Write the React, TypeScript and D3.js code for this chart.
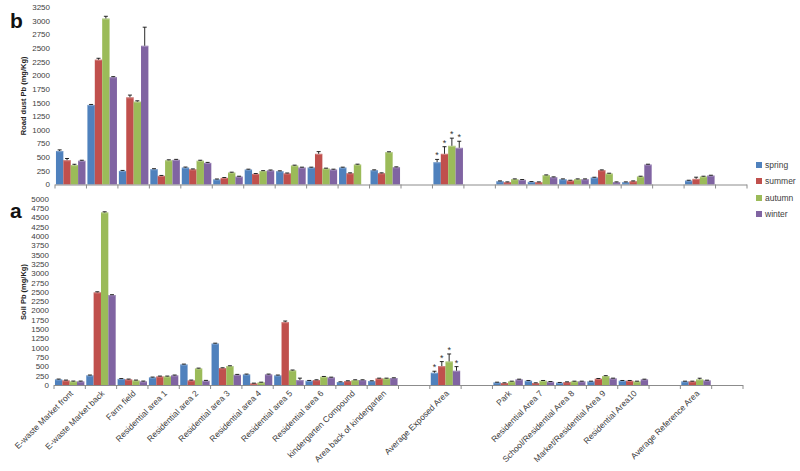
import React from "react";
import * as d3 from "d3";

const categories = [
  "E-waste Market front", "E-waste Market back", "Farm field", "Residential area 1",
  "Residential area 2", "Residential area 3", "Residential area 4", "Residential area 5",
  "Residential area 6", "kindergarten Compound", "Area back of kindergarten", "",
  "Average  Exposed Area", "", "Park", "Residential Area 7", "School/Residential Area 8",
  "Market/Residential Area 9", "Residential Area10", "", "Average Reference Area", "",
];
const seasons = ["spring", "summer", "autumn", "winter"];
const colors = ["#4F81BD", "#C0504D", "#9BBB59", "#8064A2"];

const dustSpring = [615, 1460, 250, 282, 312, 95, 275, 245, 312, 312, 263, null, 410, null, 61, 49, 98, 128, 43, null, 73, null];
const dustSummer = [447, 2290, 1600, 160, 280, 122, 195, 205, 563, 208, 208, null, 563, null, 43, 43, 73, 263, 61, null, 104, null];
const dustAutumn = [356, 3045, 1520, 445, 437, 220, 248, 349, 294, 367, 594, null, 710, null, 98, 171, 98, 202, 147, null, 147, null];
const dustWinter = [437, 1970, 2545, 453, 397, 146, 260, 312, 275, 0, 318, null, 673, null, 86, 135, 98, 43, 367, null, 165, null];

const dustSpringErr = [20, 8, 8, 8, 8, 6, 6, 6, 6, 6, 6, null, 50, null, 5, 5, 5, 5, 5, null, 5, null];
const dustSummerErr = [30, 25, 40, 6, 6, 6, 6, 6, 40, 6, 6, null, 130, null, 5, 5, 5, 5, 5, null, 30, null];
const dustAutumnErr = [15, 40, 15, 8, 8, 6, 6, 6, 6, 6, 6, null, 140, null, 5, 5, 5, 5, 5, null, 5, null];
const dustWinterErr = [8, 8, 340, 8, 8, 6, 6, 6, 6, 0, 6, null, 120, null, 5, 5, 5, 5, 5, null, 5, null];

const soilSpring = [152, 260, 165, 205, 554, 1116, 286, 260, 116, 80, 107, null, 330, null, 71, 116, 63, 98, 116, null, 98, null];
const soilSummer = [125, 2491, 152, 232, 125, 455, 45, 1690, 134, 107, 178, null, 509, null, 54, 54, 80, 170, 116, null, 98, null];
const soilAutumn = [98, 4641, 125, 232, 446, 509, 71, 393, 223, 134, 178, null, 634, null, 98, 116, 98, 241, 98, null, 152, null];
const soilWinter = [98, 2419, 98, 260, 116, 277, 286, 134, 205, 134, 188, null, 384, null, 152, 89, 98, 179, 152, null, 125, null];

const soilSpringErr = [8, 8, 8, 8, 8, 8, 8, 8, 6, 6, 6, null, 40, null, 5, 5, 5, 5, 5, null, 5, null];
const soilSummerErr = [8, 15, 8, 8, 8, 8, 5, 30, 6, 6, 6, null, 120, null, 5, 5, 5, 5, 5, null, 5, null];
const soilAutumnErr = [8, 15, 8, 8, 8, 8, 5, 10, 6, 6, 6, null, 200, null, 5, 5, 5, 10, 5, null, 30, null];
const soilWinterErr = [8, 8, 8, 8, 8, 8, 8, 50, 6, 6, 6, null, 110, null, 5, 5, 5, 5, 5, null, 5, null];

const starCategory = "Average  Exposed Area";

const dustTicks = d3.range(0, 3251, 250);
const soilTicks = d3.range(0, 5001, 250);

type Panel = {
  letter: string;
  title: string;
  series: (number | null)[][];
  errs: (number | null)[][];
  max: number;
  ticks: number[];
  x0: number;
  x1: number;
  y0: number;
  y1: number;
  letterY: number;
  showLabels: boolean;
};

const panels: Panel[] = [
  {
    letter: "b", title: "Road dust  Pb (mg/Kg)",
    series: [dustSpring, dustSummer, dustAutumn, dustWinter],
    errs: [dustSpringErr, dustSummerErr, dustAutumnErr, dustWinterErr],
    max: 3250, ticks: dustTicks, x0: 55, x1: 747, y0: 184.5, y1: 7.3, letterY: 28, showLabels: false,
  },
  {
    letter: "a", title: "Soil Pb (mg/Kg)",
    series: [soilSpring, soilSummer, soilAutumn, soilWinter],
    errs: [soilSpringErr, soilSummerErr, soilAutumnErr, soilWinterErr],
    max: 5000, ticks: soilTicks, x0: 54, x1: 743, y0: 385, y1: 199, letterY: 218, showLabels: true,
  },
];

const idx = categories.map((_, i) => String(i));

function PanelView({ p }: { p: Panel }) {
  const x = d3.scaleBand<string>().domain(idx).range([p.x0, p.x1]).paddingInner(0).paddingOuter(0);
  const inner = d3.scaleBand<string>().domain(seasons).range([0, x.bandwidth()]).paddingInner(0).paddingOuter(0.13);
  const y = d3.scaleLinear().domain([0, p.max]).range([p.y0, p.y1]);
  const bw = inner.bandwidth();
  const axisColor = "#8c8c8c";
  const textColor = "#404040";
  const font = "'Liberation Sans', Arial, sans-serif";
  return (
    <g>
      <text x={10} y={p.letterY} fontFamily={font} fontWeight="bold" fontSize={21} fill="#111">{p.letter}</text>
      <text transform={`translate(26,${(p.y0 + p.y1) / 2}) rotate(-90)`} textAnchor="middle"
        fontFamily={font} fontWeight="bold" fontSize={7.5} fill="#222">{p.title}</text>
      {p.ticks.map((t) => (
        <text key={t} x={p.x0 - 5} y={y(t)} dy="0.35em" textAnchor="end" fontFamily={font}
          fontSize={8} fill={textColor}>{t}</text>
      ))}
      {p.series.map((vals, si) =>
        vals.map((v, ci) => {
          if (v === null || v === 0) return null;
          const bx = (x(String(ci)) as number) + (inner(seasons[si]) as number);
          const top = y(v);
          const e = p.errs[si][ci] || 0;
          const et = y(v + e);
          const cx = bx + bw / 2;
          const star = categories[ci] === starCategory;
          return (
            <g key={`${si}-${ci}`}>
              <rect x={bx} y={top} width={bw} height={p.y0 - top} fill={colors[si]} />
              <rect x={bx + 0.5} y={top} width={bw - 1} height={Math.min(1.2, p.y0 - top)} fill="#ffffff" opacity={0.25} />
              {e > 0 && (
                <g stroke="#111" strokeWidth={0.9}>
                  <line x1={cx} x2={cx} y1={top} y2={et} />
                  <line x1={cx - 2} x2={cx + 2} y1={et} y2={et} />
                </g>
              )}
              {star && (
                <text x={cx} y={et - 1} textAnchor="middle" fontFamily={font} fontSize={9}
                  fill="#333">*</text>
              )}
            </g>
          );
        })
      )}
      <line x1={p.x0} x2={p.x1} y1={p.y0 + 0.5} y2={p.y0 + 0.5} stroke={axisColor} strokeWidth={1} />
      {d3.range(categories.length + 1).map((i) => {
        const tx = p.x0 + (i * (p.x1 - p.x0)) / categories.length;
        return <line key={i} x1={tx} x2={tx} y1={p.y0} y2={p.y0 + 4} stroke={axisColor} strokeWidth={1} />;
      })}
      {p.showLabels && categories.map((c, ci) => {
        if (!c) return null;
        const cx = (x(String(ci)) as number) + x.bandwidth() / 2 + 4;
        return (
          <text key={ci} transform={`translate(${cx},${p.y0 + 9}) rotate(-45)`} textAnchor="end"
            fontFamily={font} fontSize={8.5} fill={textColor}>{c}</text>
        );
      })}
    </g>
  );
}

const legendY = [165, 181, 198, 214];

export default function App() {
  const font = "'Liberation Sans', Arial, sans-serif";
  return (
    <svg width={800} height={471} style={{ position: "absolute", left: 0, top: 0, background: "#fff" }}>
      <rect width={800} height={471} fill="#fff" />
      {panels.map((p) => <PanelView key={p.letter} p={p} />)}
      {seasons.map((s, i) => (
        <g key={s}>
          <rect x={756} y={legendY[i] - 3} width={6} height={6} fill={colors[i]} />
          <text x={765} y={legendY[i]} dy="0.35em" fontFamily={font} fontSize={8.5} fill="#404040">{s}</text>
        </g>
      ))}
    </svg>
  );
}
